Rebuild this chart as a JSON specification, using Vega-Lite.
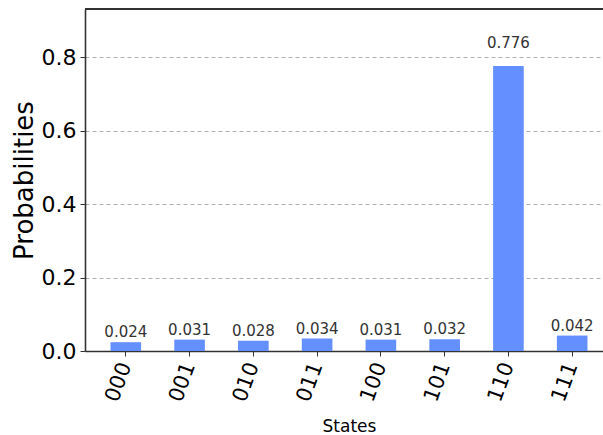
{
  "$schema": "https://vega.github.io/schema/vega-lite/v6.json",
  "autosize": {"type": "none"},
  "padding": {"left": 85, "top": 9, "right": 0, "bottom": 84},
  "width": 528,
  "height": 342,
  "config": {
    "font": "DejaVu Sans",
    "view": {"stroke": null}
  },
  "data": {
    "values": [
      {"state": "000", "p": 0.024},
      {"state": "001", "p": 0.031},
      {"state": "010", "p": 0.028},
      {"state": "011", "p": 0.034},
      {"state": "100", "p": 0.031},
      {"state": "101", "p": 0.032},
      {"state": "110", "p": 0.776},
      {"state": "111", "p": 0.042}
    ]
  },
  "encoding": {
    "x": {
      "field": "state", "type": "nominal", "sort": null,
      "scale": {"paddingInner": 0.52, "paddingOuter": 0.4},
      "axis": {
        "title": "States", "titleFontSize": 17, "titleFontWeight": "normal", "titleColor": "#000000", "titlePadding": 14,
        "labelAngle": -70, "labelAlign": "right", "labelBaseline": "middle", "labelFontSize": 21, "labelColor": "#000000", "labelPadding": 7,
        "tickSize": 5, "tickColor": "#333333", "domainColor": "#333333", "domainWidth": 1.6
      }
    },
    "y": {
      "field": "p", "type": "quantitative",
      "scale": {"domain": [0, 0.9312], "nice": false},
      "axis": {
        "title": "Probabilities", "titleFontSize": 26, "titleFontWeight": "normal", "titleColor": "#000000", "titlePadding": 4,
        "values": [0, 0.2, 0.4, 0.6, 0.8], "format": ".1f",
        "labelFontSize": 22, "labelColor": "#000000", "labelPadding": 4,
        "tickSize": 5, "tickColor": "#333333", "domainColor": "#333333", "domainWidth": 1.6,
        "grid": true, "gridDash": [4, 3], "gridColor": "#b0b0b0", "gridWidth": 1
      }
    }
  },
  "layer": [
    {"mark": {"type": "bar", "color": "#648fff"}},
    {
      "transform": [{"filter": "datum.p < 0.5"}],
      "mark": {"type": "text", "dy": -10, "fontSize": 15, "color": "#333333"},
      "encoding": {"text": {"field": "p", "type": "quantitative", "format": ".3f"}}
    },
    {
      "transform": [{"filter": "datum.p >= 0.5"}],
      "mark": {"type": "text", "dy": -23, "fontSize": 15, "color": "#333333"},
      "encoding": {"text": {"field": "p", "type": "quantitative", "format": ".3f"}}
    },
    {
      "mark": {"type": "rule", "color": "#333333", "strokeWidth": 1.6},
      "encoding": {"y": {"datum": 0.9312}, "x": null}
    }
  ]
}
